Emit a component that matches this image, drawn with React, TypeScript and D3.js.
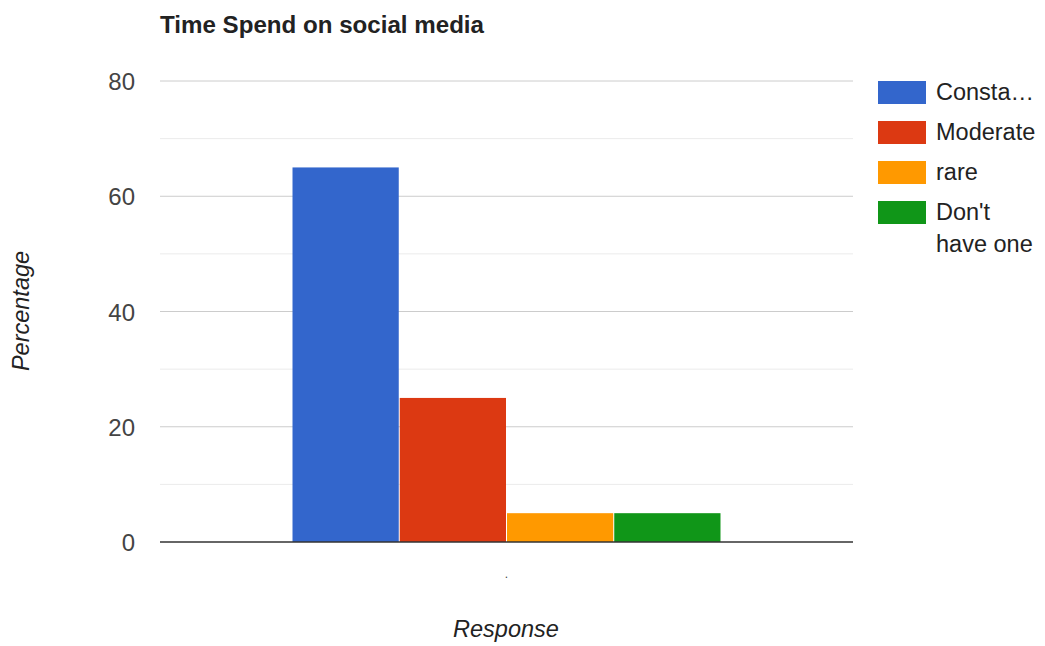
import React from "react";
import * as d3 from "d3";

const categories = ["."];
const seriesNames = ["Consta…", "Moderate", "rare", "Don't have one"];
const seriesValues = [65, 25, 5, 5];
const seriesColors = ["#3366cc", "#dc3912", "#ff9900", "#109618"];
const majorTicks = [0, 20, 40, 60, 80];
const minorTicks = [10, 30, 50, 70];

export default function App() {
  const W = 1045, H = 646;
  const left = 160, right = 853, top = 81, bottom = 542;
  const y = d3.scaleLinear().domain([0, 80]).range([bottom, top]);
  const x0 = d3.scaleBand().domain(categories).range([left, right]).paddingInner(0).paddingOuter(0.3077);
  const x1 = d3.scaleBand().domain(seriesNames).range([0, x0.bandwidth()]).padding(0);
  const font = "'Liberation Sans', Arial, sans-serif";
  const legendX = 878;
  return (
    <svg width={W} height={H} style={{ position: "absolute", left: 0, top: 0 }} fontFamily={font}>
      <rect width={W} height={H} fill="#fff" />
      <text x={160} y={33} fontSize={23.5} fontWeight="bold" fill="#222" textLength={324} lengthAdjust="spacingAndGlyphs">Time Spend on social media</text>
      {minorTicks.map((t) => (
        <line key={"m" + t} x1={left} x2={right} y1={y(t)} y2={y(t)} stroke="#ebebeb" strokeWidth={1} />
      ))}
      {majorTicks.map((t) => (
        <g key={t}>
          {t !== 0 && <line x1={left} x2={right} y1={y(t)} y2={y(t)} stroke="#cccccc" strokeWidth={1} />}
          <text x={135} y={y(t) + 9} textAnchor="end" fontSize={24} fill="#444">{t}</text>
        </g>
      ))}
      {categories.map((c) => (
        <g key={c} transform={`translate(${x0(c)},0)`}>
          {seriesNames.map((s, i) => (
            <rect key={s} x={x1(s)! + 0.5} y={y(seriesValues[i])} width={x1.bandwidth() - 1}
              height={y(0) - y(seriesValues[i])} fill={seriesColors[i]} />
          ))}
          <text x={x0.bandwidth() / 2} y={578} textAnchor="middle" fontSize={12} fill="#444">{c}</text>
        </g>
      ))}
      <line x1={left} x2={right} y1={y(0)} y2={y(0)} stroke="#333" strokeWidth={1.5} />
      <text x={506} y={637} textAnchor="middle" fontSize={23.5} fontStyle="italic" fill="#222">Response</text>
      <text transform={`translate(29,311) rotate(-90)`} textAnchor="middle" fontSize={23.5} fontStyle="italic" fill="#222">Percentage</text>
      {seriesNames.map((s, i) => {
        const yy = 81 + i * 40;
        const lines = s === "Don't have one" ? ["Don't", "have one"] : [s];
        return (
          <g key={s}>
            <rect x={legendX} y={yy} width={48} height={23} fill={seriesColors[i]} />
            {lines.map((l, j) => (
              <text key={j} x={936} y={yy + 19 + j * 32} fontSize={23.5} fill="#222">{l}</text>
            ))}
          </g>
        );
      })}
    </svg>
  );
}
